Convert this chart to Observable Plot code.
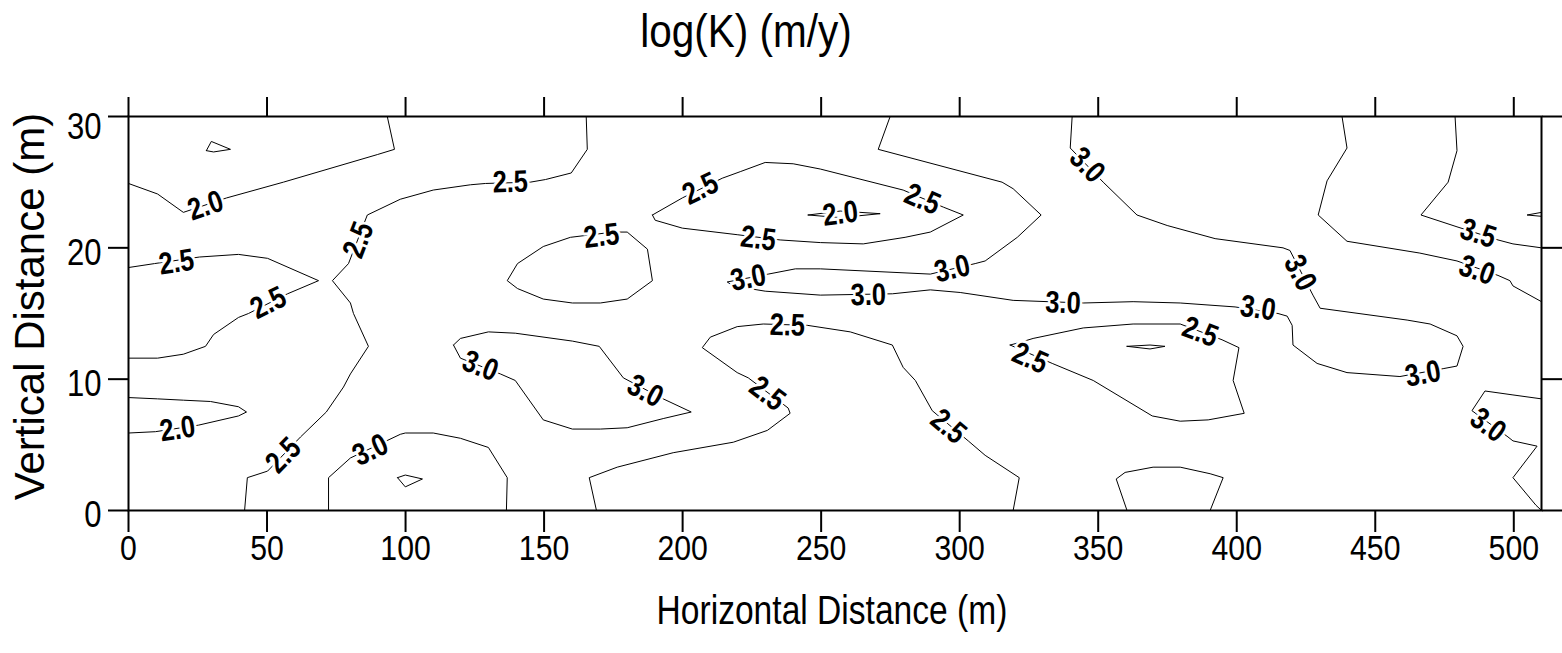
<!DOCTYPE html>
<html>
<head>
<meta charset="utf-8">
<script src="https://cdn.jsdelivr.net/npm/d3@7"></script>
<script src="https://cdn.jsdelivr.net/npm/@observablehq/plot@0.6"></script>
<style>
  body { margin: 0; background: #fff; }
  svg { display: block; }
</style>
</head>
<body>
<div id="chart"></div>
<script>
// ---------- Data (x: horizontal distance m, y: vertical distance m) ----------
const title = "log(K) (m/y)";
const xTitle = "Horizontal Distance (m)";
const yTitle = "Vertical Distance (m)";
const xTicks = [0, 50, 100, 150, 200, 250, 300, 350, 400, 450, 500];
const yTicks = [0, 10, 20, 30];

// contour polylines
const c_A  = [[0,24.9],[10.5,24.1],[19.8,22.7],[35.4,23.8],[55.9,25.0],[89.8,27.1],[96.0,27.5],[93.4,30]];
const c_A2 = [[28.1,27.4],[29.9,28.1],[36.8,27.5],[30.7,27.3],[28.1,27.4]];
const c_B  = [[0,18.5],[9.4,18.8],[25.6,19.3],[39.7,19.5],[50.2,19.2],[68.6,17.5],[57.4,16.5],[43.3,15.0],[39.7,14.7],[30.7,13.4],[27.8,12.5],[19.8,11.9],[10.5,11.6],[0,11.6]];
const c_C  = [[0,8.6],[10.5,8.5],[19.8,8.4],[29.6,8.3],[39.7,7.9],[42.6,7.5],[39.7,7.2],[25.3,6.5],[9.7,6.0],[0,5.9]];
const c_D  = [[165.2,30],[165.6,27.5],[159.8,25.7],[150.5,25.2],[145.0,25.0],[128.8,24.9],[123.4,24.8],[110.0,24.4],[98.1,23.7],[86.2,22.5],[79.4,18.8],[73.6,17.5],[80.1,15.8],[81.2,15.0],[86.6,12.5],[80.1,10.4],[77.6,9.4],[71.4,7.5],[62.1,5.6],[50.2,3.0],[42.9,2.5],[41.9,0]];
const c_E  = [[72.2,0],[72.2,2.5],[80.1,4.0],[98.1,5.8],[99.9,5.9],[110.0,5.9],[119.8,5.5],[129.9,4.8],[136.7,2.5],[136.4,0]];
const c_E2 = [[97.1,2.5],[99.9,2.7],[106.1,2.4],[99.9,1.8],[97.1,2.5]];
const c_F  = [[117.3,12.6],[119.8,13.1],[129.9,13.6],[139.6,13.5],[160.2,12.9],[169.9,12.5],[178.6,10.1],[193.0,8.5],[203.1,7.5],[193.0,7.0],[180.0,6.3],[170.3,6.2],[160.2,6.2],[149.7,6.9],[139.6,9.9],[134.2,10.4],[119.8,11.6],[117.3,12.6]];
const c_G  = [[175.0,21.2],[180.0,21.2],[187.3,19.9],[189.1,17.5],[180.0,16.1],[170.3,15.8],[160.2,15.8],[149.7,16.1],[140.4,16.9],[136.7,17.5],[140.4,18.8],[149.7,20.1],[159.5,20.8],[175.0,21.2]];
const c_H  = [[189.1,22.5],[190.1,22.1],[199.9,21.5],[219.7,21.0],[235.2,20.6],[249.7,20.4],[265.2,20.3],[280.3,20.8],[289.4,21.2],[301.3,22.5],[294.1,23.1],[279.6,24.4],[249.7,26.0],[239.9,26.4],[229.8,26.5],[220.8,25.8],[214.3,25.3],[199.9,23.8],[189.1,22.5]];
const c_H2 = [[245.3,22.5],[256.9,22.8],[271.3,22.6],[256.9,22.3],[245.3,22.5]];
const c_J  = [[340.6,30],[339.9,27.6],[351.8,25.0],[364.0,22.5],[374.9,21.7],[392.2,20.7],[416.7,20.0],[419.2,19.8],[427.5,16.4],[430.1,15.4],[461.5,14.5],[469.8,14.2],[479.5,13.3],[481.7,12.5],[479.5,11.0],[474.5,10.8],[458.9,10.2],[439.8,10.5],[429.0,11.2],[420.3,12.6],[420.0,14.1],[418.2,14.8],[414.9,15.0],[399.4,15.5],[379.6,15.8],[362.6,15.9],[344.6,15.8],[319.3,16.0],[300.2,16.6],[289.4,16.8],[275.7,16.5],[249.7,16.4],[229.8,16.7],[218.3,17.1],[216.1,17.4],[230.9,18.0],[240.7,18.4],[249.7,18.4],[289.4,18.0],[305.6,18.8],[309.2,19.0],[320.8,20.8],[329.4,22.5],[319.3,24.5],[315.3,25.0],[270.6,27.5],[274.9,30]];
const c_K  = [[168.9,0],[166.3,2.5],[176.4,3.3],[196.6,4.4],[218.3,5.2],[230.6,6.1],[238.8,7.4],[238.1,7.8],[223.7,10.1],[219.7,10.5],[207.1,12.4],[210.0,13.2],[219.7,14.0],[229.1,14.2],[245.0,14.1],[260.5,13.6],[275.7,12.6],[279.6,10.9],[284.0,9.9],[290.1,7.6],[303.1,5.3],[309.2,4.2],[321.5,2.5],[319.3,0]];
const c_L  = [[318.2,12.6],[333.4,11.2],[348.2,9.9],[369.5,7.2],[379.6,6.8],[389.7,6.9],[402.7,7.4],[398.7,9.9],[400.8,12.4],[394.7,13.0],[379.6,14.2],[362.6,14.2],[344.6,13.9],[326.5,13.1],[321.8,12.8],[318.2,12.6]];
const c_L2 = [[360.4,12.5],[368.7,12.6],[374.1,12.5],[368.7,12.3],[360.4,12.5]];
const c_M  = [[360.4,0],[356.5,2.4],[359.7,2.9],[369.8,3.3],[379.6,3.3],[390.4,2.8],[395.1,2.5],[390.4,0]];
const c_N  = [[438.0,30],[439.8,27.6],[432.6,25.1],[429.4,22.5],[439.8,20.5],[466.1,19.6],[479.5,19.0],[494.3,17.9],[498.6,17.5],[499.7,17.1],[510,15.9]];
const c_O  = [[478.8,30],[479.5,27.4],[476.3,25.0],[466.5,22.5],[479.5,21.6],[494.3,20.6],[499.7,20.3],[510,20.0]];
const c_O2 = [[510,22.7],[504.8,22.5],[510,22.4]];
const c_P  = [[510,8.5],[499.7,8.8],[489.6,9.1],[484.9,7.6],[497.9,5.6],[499.7,5.3],[508.4,4.9],[499.7,2.5],[508.0,0.4],[510,0]];

const contourLines = [c_A, c_A2, c_B, c_C, c_D, c_E, c_E2, c_F, c_G, c_H, c_H2, c_J, c_K, c_L, c_L2, c_M, c_N, c_O, c_O2, c_P];

// contour labels
const labelText = ["2.0","2.5","2.5","2.5","2.0","2.5","3.0","2.5","3.0","3.0","2.5","2.5","2.5","2.0","2.5","3.0","3.0","3.0","3.0","3.0","3.0","3.0","3.0","2.5","2.5","2.5","2.5","2.5","3.0","3.5","3.0"];
const labelX = [27.8,17.3,50.5,83.0,17.7,55.9,87.3,137.8,127.0,186.5,170.7,206.4,227.3,256.9,286.5,223.7,297.3,267.0,337.3,346.0,407.7,422.9,467.2,237.8,230.6,295.9,325.4,386.8,486.7,487.1,490.7];
const labelY = [23.2,18.9,15.8,20.6,6.2,4.2,4.6,25.0,11.0,9.1,20.9,24.5,20.7,22.6,23.7,17.7,18.4,16.4,15.8,26.3,15.4,18.1,10.4,14.1,8.9,6.4,11.6,13.6,18.3,21.1,6.5];

// ---------- Layout ----------
const W = 1562, H = 653;
const mt = 116, mb = 143, ml = 128, mr = 21;
const xDomain = [0, 510], yDomain = [0, 30];

const rows = contourLines.flatMap((pts, id) => pts.map(([x, y]) => ({id, x, y})));

// label rotation follows the nearest contour segment (in screen space)
const kx = (W - ml - mr) / (xDomain[1] - xDomain[0]);
const ky = (H - mt - mb) / (yDomain[1] - yDomain[0]);
function angleAt(x, y) {
  const px = x * kx, py = -y * ky;
  let best = Infinity, ang = 0;
  for (const pts of contourLines) {
    for (let i = 0; i < pts.length - 1; i++) {
      const ax = pts[i][0] * kx, ay = -pts[i][1] * ky;
      const bx = pts[i+1][0] * kx, by = -pts[i+1][1] * ky;
      const dx = bx - ax, dy = by - ay;
      const L2 = dx*dx + dy*dy || 1;
      let t = ((px - ax) * dx + (py - ay) * dy) / L2;
      t = Math.max(0, Math.min(1, t));
      const qx = ax + t*dx - px, qy = ay + t*dy - py;
      const d = qx*qx + qy*qy;
      if (d < best) { best = d; ang = Math.atan2(dy, dx) * 180 / Math.PI; }
    }
  }
  if (ang > 90) ang -= 180;
  if (ang < -90) ang += 180;
  return ang;
}
const labels = labelText.map((t, i) => ({text: t, x: labelX[i], y: labelY[i], angle: angleAt(labelX[i], labelY[i])}));

const font = "'Liberation Sans', Arial, Helvetica, sans-serif";

const chart = Plot.plot({
  width: W, height: H,
  marginTop: mt, marginBottom: mb, marginLeft: ml, marginRight: mr,
  x: {domain: xDomain},
  y: {domain: yDomain},
  style: {fontFamily: font, background: "white", color: "black", overflow: "visible"},
  marks: [
    Plot.line(rows, {x: "x", y: "y", z: "id", stroke: "black", strokeWidth: 1, curve: "linear"}),
    Plot.text(labels, {x: "x", y: "y", text: "text", rotate: "angle", fontSize: 31, fontWeight: "bold",
      fill: "black", stroke: "white", strokeWidth: 6, ariaDescription: "contour-label"}),
    Plot.frame({stroke: "black", strokeWidth: 2}),
    Plot.axisX({anchor: "bottom", ticks: xTicks, tickSize: 22, tickPadding: 2, strokeWidth: 2, fontSize: 36, label: null}),
    Plot.axisX({anchor: "top", ticks: xTicks, tickSize: 20, strokeWidth: 2, tickFormat: () => "", label: null}),
    Plot.axisY({anchor: "left", ticks: yTicks, tickSize: 20, strokeWidth: 2, tickFormat: () => "", label: null}),
    Plot.axisY({anchor: "right", ticks: yTicks, tickSize: 20, strokeWidth: 2, tickFormat: () => "", label: null}),
    Plot.text(yTicks.filter(d => d < 30), {y: d => d, text: d => String(d), frameAnchor: "left", textAnchor: "end", dx: -27, dy: 5, fontSize: 37, ariaDescription: "y-tick-label"}),
    Plot.text(yTicks.filter(d => d >= 30), {y: d => d, text: d => String(d), frameAnchor: "left", textAnchor: "end", dx: -27, dy: 11, fontSize: 37, ariaDescription: "y-tick-label"}),
    Plot.text([title], {text: d => d, frameAnchor: "top", textAnchor: "middle", lineAnchor: "bottom", dx: -89, dy: -70, fontSize: 46, ariaDescription: "main-title"}),
    Plot.text([xTitle], {text: d => d, frameAnchor: "bottom", textAnchor: "middle", lineAnchor: "bottom", dx: -3, dy: 113, fontSize: 40, ariaDescription: "x-title"}),
    Plot.text([yTitle], {text: d => d, frameAnchor: "left", textAnchor: "middle", lineAnchor: "bottom", rotate: -90, dx: -85, dy: -7, fontSize: 42, ariaDescription: "y-title"})
  ]
});

// horizontally condensed lettering, as in the original figure
function condense(svg, selector, s) {
  svg.querySelectorAll(selector).forEach(t => {
    const tr = t.getAttribute("transform") || "";
    t.setAttribute("transform", `${tr} scale(${s},1)`);
  });
}
condense(chart, 'g[aria-label="x-axis tick label"] text', 0.84);
condense(chart, 'g[aria-description="y-tick-label"] text', 0.84);
condense(chart, 'g[aria-description="main-title"] text', 0.88);
condense(chart, 'g[aria-description="x-title"] text', 0.84);
condense(chart, 'g[aria-description="contour-label"] text', 0.82);

document.getElementById("chart").appendChild(chart);
</script>
</body>
</html>
